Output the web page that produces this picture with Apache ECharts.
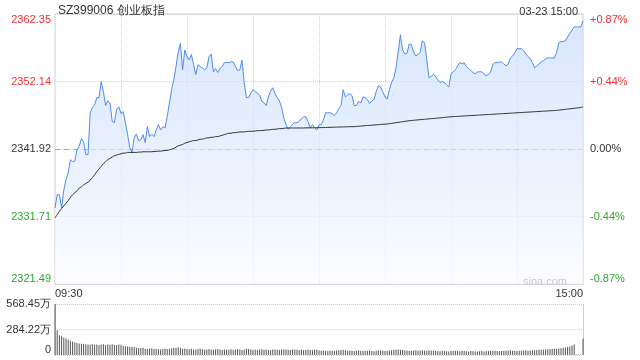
<!DOCTYPE html>
<html><head><meta charset="utf-8">
<script src="https://cdn.jsdelivr.net/npm/echarts@6/dist/echarts.min.js"></script>
<style>html,body{margin:0;padding:0;background:#fff}#c{width:640px;height:360px}</style>
</head><body><div id="c"></div>
<script>
const prevClose = 2341.92;
const priceMin = 2321.49, priceMax = 2362.35;
const pctMax = 0.8724;
const volMax = 568.45;
const priceTickLabels = ['2321.49','2331.71','2341.92','2352.14','2362.35'];
const pctTickLabels = ['-0.87%','-0.44%','0.00%','+0.44%','+0.87%'];
const volTickLabels = ['0','284.22万','568.45万'];

const price = [
2333.0,2335.0,2335.0,2333.0,2335.7,2337.3,2338.3,2340.3,2340.0,2340.1,
2341.8,2342.3,2343.5,2343.0,2341.1,2341.1,2347.4,2348.2,2348.6,2349.7,
2349.7,2352.1,2350.6,2348.5,2349.2,2348.9,2346.1,2345.9,2347.9,2348.3,
2347.3,2347.6,2345.9,2344.1,2342.1,2341.4,2343.6,2344.2,2343.2,2343.3,
2344.1,2342.9,2345.3,2343.8,2344.2,2343.8,2344.8,2345.6,2344.8,2345.3,
2345.1,2346.8,2348.9,2350.9,2352.4,2354.4,2356.6,2357.9,2353.9,2356.9,
2355.9,2355.4,2356.2,2354.7,2353.2,2354.7,2354.4,2354.2,2353.9,2354.2,
2355.9,2356.3,2353.6,2354.1,2353.5,2354.1,2354.4,2355.0,2355.0,2355.0,
2355.1,2355.1,2354.4,2353.8,2353.9,2355.4,2352.0,2349.7,2349.7,2350.4,
2350.9,2350.6,2350.4,2350.1,2349.1,2348.9,2348.5,2349.8,2350.7,2351.2,
2350.3,2349.7,2349.2,2348.2,2346.6,2345.6,2344.9,2345.3,2345.7,2345.9,
2345.9,2346.1,2346.5,2346.8,2346.8,2346.1,2345.1,2345.6,2345.1,2344.8,
2345.6,2345.6,2346.3,2347.4,2347.4,2347.4,2347.3,2347.0,2347.4,2348.0,
2348.5,2350.9,2349.8,2350.1,2350.3,2350.0,2348.5,2348.5,2349.1,2348.9,
2349.8,2349.7,2349.4,2348.8,2349.2,2349.4,2350.6,2351.5,2351.3,2350.6,
2349.8,2349.5,2350.9,2352.0,2352.7,2354.2,2356.6,2359.2,2356.9,2356.3,
2356.4,2357.8,2357.7,2356.6,2356.0,2356.2,2356.6,2358.3,2358.0,2355.4,
2352.7,2352.9,2353.2,2352.9,2352.4,2352.0,2352.1,2352.0,2351.6,2351.3,
2353.3,2353.6,2353.9,2354.5,2355.0,2354.8,2355.0,2354.4,2354.1,2353.8,
2353.5,2353.3,2353.6,2353.6,2353.6,2353.3,2353.0,2353.2,2353.6,2354.7,
2355.0,2355.0,2355.1,2355.1,2354.8,2354.5,2354.8,2355.7,2356.0,2356.5,
2357.1,2357.1,2357.1,2356.8,2356.3,2355.9,2355.6,2355.0,2354.2,2354.5,
2354.8,2355.1,2355.3,2355.6,2355.7,2355.7,2355.7,2355.7,2356.5,2358.0,
2358.2,2358.2,2358.3,2358.9,2359.4,2359.9,2360.4,2360.4,2360.4,2360.4,
2361.3];

const avg = [
2331.5,2332.0,2332.5,2332.9,2333.3,2333.7,2334.1,2334.6,2335.0,2335.3,
2335.6,2336.0,2336.2,2336.5,2336.7,2336.9,2337.2,2337.6,2338.0,2338.5,
2338.9,2339.3,2339.7,2340.0,2340.3,2340.5,2340.7,2340.9,2341.0,2341.1,
2341.2,2341.3,2341.3,2341.4,2341.4,2341.4,2341.4,2341.4,2341.45,2341.45,
2341.5,2341.5,2341.5,2341.5,2341.5,2341.55,2341.55,2341.6,2341.6,2341.65,
2341.7,2341.7,2341.8,2341.9,2342.0,2342.2,2342.4,2342.5,2342.6,2342.8,
2342.9,2343.0,2343.1,2343.2,2343.2,2343.3,2343.4,2343.4,2343.5,2343.6,
2343.6,2343.7,2343.7,2343.8,2343.8,2343.9,2344.0,2344.1,2344.2,2344.3,
2344.3,2344.4,2344.4,2344.45,2344.5,2344.5,2344.5,2344.55,2344.6,2344.6,
2344.6,2344.65,2344.7,2344.7,2344.7,2344.75,2344.8,2344.8,2344.85,2344.9,
2344.9,2344.95,2345.0,2345.0,2345.05,2345.1,2345.1,2345.1,2345.1,2345.1,
2345.1,2345.1,2345.1,2345.1,2345.12,2345.12,2345.12,2345.13,2345.13,2345.14,
2345.15,2345.16,2345.17,2345.18,2345.19,2345.2,2345.21,2345.22,2345.23,2345.24,
2345.25,2345.26,2345.27,2345.28,2345.29,2345.3,2345.3,2345.33,2345.36,2345.39,
2345.42,2345.45,2345.48,2345.5,2345.52,2345.55,2345.58,2345.6,2345.63,2345.66,
2345.68,2345.7,2345.75,2345.8,2345.85,2345.9,2345.95,2346.0,2346.05,2346.1,
2346.15,2346.2,2346.23,2346.26,2346.3,2346.33,2346.36,2346.39,2346.42,2346.45,
2346.48,2346.51,2346.54,2346.57,2346.6,2346.63,2346.66,2346.7,2346.73,2346.77,
2346.8,2346.82,2346.84,2346.86,2346.88,2346.9,2346.92,2346.94,2346.96,2346.98,
2347.0,2347.02,2347.04,2347.06,2347.08,2347.1,2347.12,2347.14,2347.16,2347.18,
2347.2,2347.22,2347.24,2347.26,2347.28,2347.3,2347.32,2347.34,2347.36,2347.38,
2347.4,2347.42,2347.44,2347.46,2347.48,2347.5,2347.52,2347.54,2347.56,2347.58,
2347.6,2347.62,2347.64,2347.66,2347.68,2347.7,2347.72,2347.74,2347.76,2347.8,
2347.84,2347.88,2347.92,2347.96,2348.0,2348.04,2348.08,2348.12,2348.16,2348.22,
2348.3];

const volume = [
568,277,220,209,194,183,172,160,150,142,
135,128,125,122,120,118,118,120,115,118,
112,116,120,110,118,115,120,112,108,118,
115,100,98,95,90,92,85,80,75,78,
82,70,68,72,75,66,70,65,62,68,
72,66,70,75,80,78,85,82,70,72,
68,65,70,62,60,66,70,64,58,62,
68,60,58,64,66,60,56,62,58,60,
64,58,62,66,60,56,62,70,66,60,
58,62,56,60,64,58,62,56,54,60,
62,58,56,60,64,60,58,55,60,62,
58,56,60,54,58,62,56,55,58,60,
52,48,50,46,44,50,48,45,50,52,
55,58,52,48,50,46,45,48,50,46,
44,48,46,50,45,42,48,52,50,46,
44,48,50,52,56,60,62,58,55,52,
50,48,46,50,52,48,50,54,50,46,
52,50,48,46,44,42,46,44,42,40,
44,48,46,44,42,46,44,42,40,44,
42,40,38,42,44,40,42,44,46,48,
46,44,42,44,46,48,50,52,48,46,
44,46,48,50,52,48,50,54,52,56,
58,60,58,62,64,66,68,70,66,72,
76,80,84,88,95,105,118,6,5,4,
185];

function pad(n){return (n<10?'0':'')+n;}
const times = [];
for (let m = 9*60+30; m <= 11*60+30; m++) times.push(pad(Math.floor(m/60))+':'+pad(m%60));
for (let m = 13*60+1; m <= 15*60; m++) times.push(pad(Math.floor(m/60))+':'+pad(m%60));

const RED = '#f22e2e', GREEN = '#2fa52f', DARK = '#333';
const FONT = 'Liberation Sans, Arial, sans-serif';
const lastIdx = times.length - 1;

const chart = echarts.init(document.getElementById('c'), null, {renderer:'canvas'});
chart.setOption({
  animation: false,
  textStyle: {fontFamily: FONT},
  title: [
    {text: 'SZ399006 创业板指', left: 53, top: 0, textStyle: {fontSize: 12, fontWeight: 'normal', color: '#333', fontFamily: FONT}},
    {text: '03-23 15:00', right: 57, top: 1, textStyle: {fontSize: 11, fontWeight: 'normal', color: '#333', fontFamily: FONT}},
    {text: 'sina.com', right: 68, top: 271, textStyle: {fontSize: 11, fontWeight: 'normal', color: '#c8c8c8', fontFamily: FONT}}
  ],
  grid: [
    {left: 55, right: 57, top: 14, height: 270, show: true, borderColor: '#cfcfcf', borderWidth: 1, backgroundColor: 'transparent'},
    {left: 55, right: 57, top: 304, height: 51}
  ],
  xAxis: [
    {type: 'category', gridIndex: 0, data: times, boundaryGap: false,
     axisLine: {show: false}, axisTick: {show: false},
     axisLabel: {interval: (i) => i === 0 || i === lastIdx, color: '#333', fontSize: 11, margin: 4,
                 alignMinLabel: 'left', alignMaxLabel: 'right', showMinLabel: true, showMaxLabel: true},
     splitLine: {show: true, interval: (i) => i % 30 === 0 && i !== 0 && i !== lastIdx, lineStyle: {color: '#cfcfcf', type: 'dotted'}}},
    {type: 'category', gridIndex: 1, data: times, boundaryGap: false,
     axisLine: {show: false}, axisTick: {show: false}, axisLabel: {show: false}, splitLine: {show: false}}
  ],
  yAxis: [
    {type: 'value', gridIndex: 0, position: 'left', min: priceMin, max: priceMax, interval: (priceMax - priceMin) / 4,
     axisLine: {show: false}, axisTick: {show: false},
     axisLabel: {fontSize: 11, margin: 4, verticalAlignMaxLabel: 'top', verticalAlignMinLabel: 'bottom',
                 formatter: (v, i) => priceTickLabels[i],
                 color: (v, i) => (i > 2 ? RED : (i < 2 ? GREEN : DARK))},
     splitLine: {show: true, lineStyle: {color: '#cfcfcf', type: 'dotted'}}},
    {type: 'value', gridIndex: 0, position: 'right', min: -pctMax, max: pctMax, interval: pctMax / 2,
     axisLine: {show: false}, axisTick: {show: false},
     axisLabel: {fontSize: 11, margin: 7, verticalAlignMaxLabel: 'top', verticalAlignMinLabel: 'bottom',
                 formatter: (v, i) => pctTickLabels[i],
                 color: (v, i) => (i > 2 ? RED : (i < 2 ? GREEN : DARK))},
     splitLine: {show: false}},
    {type: 'value', gridIndex: 1, position: 'left', min: 0, max: volMax, interval: volMax / 2,
     axisLine: {show: true, lineStyle: {color: '#cfcfcf'}}, axisTick: {show: false},
     axisLabel: {fontSize: 11, margin: 4, color: '#333', verticalAlignMinLabel: 'bottom',
                 formatter: (v, i) => volTickLabels[i]},
     splitLine: {show: true, lineStyle: {color: '#cfcfcf', type: 'dotted'}}},
    {type: 'value', gridIndex: 1, position: 'right', min: 0, max: volMax, interval: volMax / 2,
     axisLine: {show: true, lineStyle: {color: '#cfcfcf'}}, axisTick: {show: false},
     axisLabel: {show: false}, splitLine: {show: false}},
    {type: 'value', gridIndex: 0, position: 'left', min: priceMin, max: priceMax, interval: (priceMax - priceMin) / 2,
     axisLine: {show: false}, axisTick: {show: false}, axisLabel: {show: false},
     splitLine: {show: true, lineStyle: {color: ['rgba(0,0,0,0)', '#f0894f', 'rgba(0,0,0,0)'], type: [5, 4], width: 1}}}
  ],
  series: [
    {type: 'line', name: 'price', xAxisIndex: 0, yAxisIndex: 0, data: price, symbol: 'none',
     lineStyle: {color: '#4d8bee', width: 1},
     areaStyle: {origin: 'start', color: new echarts.graphic.LinearGradient(0, 0, 0, 1, [
        {offset: 0, color: '#c8dbfa'}, {offset: 0.6, color: '#e4edfc'}, {offset: 1, color: '#f9fbff'}])},
     z: 3},
    {type: 'line', name: 'avg', xAxisIndex: 0, yAxisIndex: 0, data: avg, symbol: 'none', smooth: 0.3,
     lineStyle: {color: '#333', width: 1}, z: 4},
    {type: 'bar', name: 'vol', xAxisIndex: 1, yAxisIndex: 2, data: volume, barWidth: 1,
     itemStyle: {color: '#555'}}
  ]
});
</script>
</body></html>
